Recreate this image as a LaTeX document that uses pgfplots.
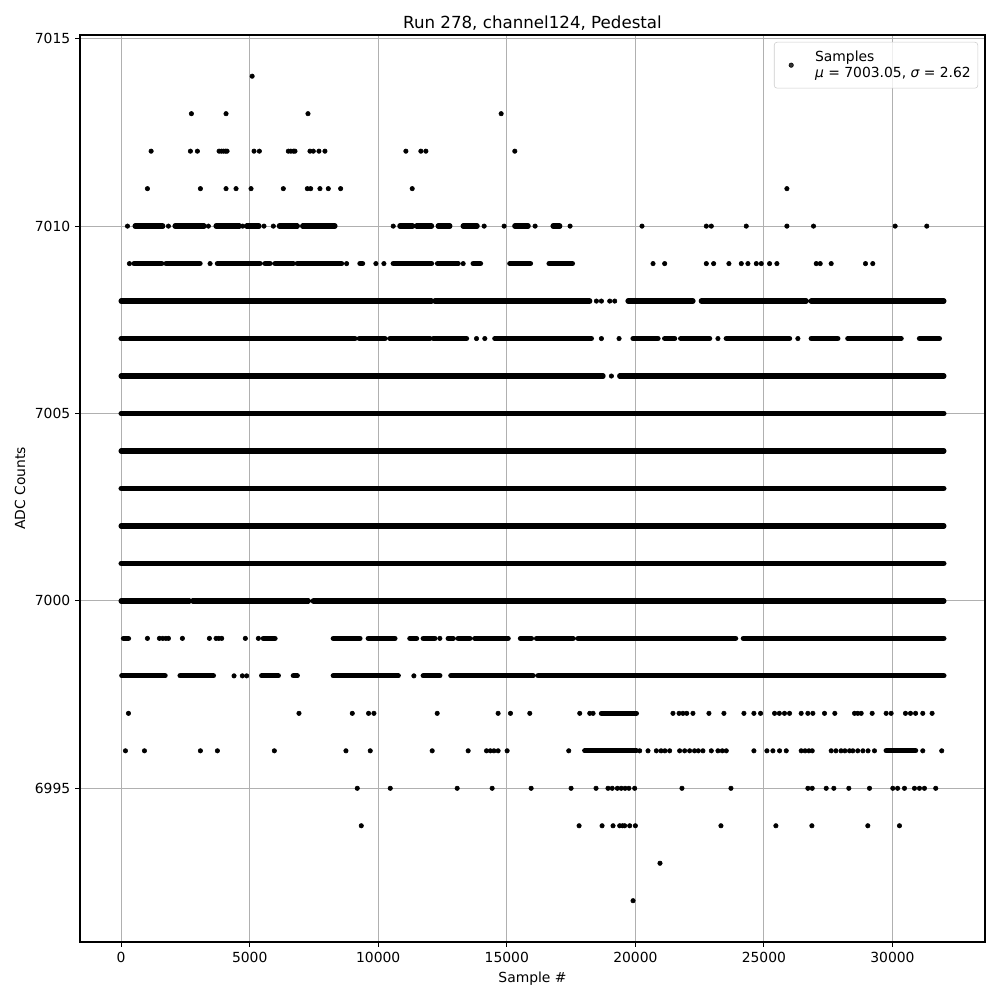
\documentclass[border=0pt]{standalone}
\usepackage{pgfplots}
\pgfplotsset{compat=1.18}
\usepackage{fontspec}
\setmainfont{DejaVu Sans}
\pgfplotsset{
  /pgf/number format/1000 sep={},
  /pgf/number format/assume math mode=true,
  seg/.style={black, line width=3.8bp, line cap=round, no marks, unbounded coords=jump, forget plot},
}
\begin{document}
\begin{tikzpicture}
\begin{axis}[
  scale only axis, width=651.6bp, height=653bp,
  xmin=-1600, xmax=33599, ymin=6990.9, ymax=7015.1,
  xtick={0,5000,10000,15000,20000,25000,30000},
  ytick={6995,7000,7005,7010,7015},
  scaled ticks=false,
  font=\fontsize{10bp}{12bp}\selectfont,
  tick label style={font=\fontsize{10bp}{12bp}\selectfont},
  tick align=outside, major tick length=3.5bp,
  xtick pos=left, ytick pos=left,
  major tick style={line width=0.8bp, black},
  axis line style={line width=0.8bp},
  grid=major, grid style={color=black!31, line width=0.8bp},
  title={Run 278, channel124, Pedestal},
  title style={font=\fontsize{12bp}{14bp}\selectfont, inner sep=0pt, yshift=-2.6bp},
  xlabel={Sample \#}, ylabel={ADC Counts},
  legend cell align=left,
  legend image code/.code={\path (0,0) (24bp,0);
    \draw[#1] plot coordinates {(9bp,0bp)};},
  legend style={at={(1,1)}, xshift=-5bp, yshift=-5bp, anchor=north east,
    draw=black!20, rounded corners=2bp, fill=white, fill opacity=0.8, text opacity=1,
    inner xsep=3bp, inner ysep=4bp,
    font=\fontsize{10bp}{12bp}\selectfont, cells={align=left}},
]
% isolated samples
\addplot[only marks, mark=*, mark size=1.6bp, black] coordinates {
(5095,7014)
(2733,7013) (4080,7013) (7267,7013) (14780,7013)
(1166,7012) (2694,7012) (2966,7012) (3810,7012) (3900,7012) (3980,7012) (4060,7012) (4120,7012)
(5169,7012) (5376,7012) (6502,7012) (6600,7012) (6700,7012) (6762,7012) (7345,7012) (7474,7012)
(7694,7012) (7927,7012) (11075,7012) (11658,7012) (11852,7012) (15311,7012)
(1023,7011) (3083,7011) (4080,7011) (4469,7011) (5052,7011) (6308,7011) (7241,7011) (7371,7011)
(7733,7011) (8057,7011) (8537,7011) (11321,7011) (25894,7011)
(246,7010) (1839,7010) (3394,7010) (4728,7010) (5557,7010) (5920,7010) (10583,7010) (14119,7010)
(14896,7010) (16101,7010) (17461,7010) (20258,7010) (22760,7010) (22954,7010) (24314,7010)
(25894,7010) (26930,7010) (30104,7010) (31334,7010)
(323,7009) (3459,7009) (8770,7009) (9909,7009) (10220,7009) (13303,7009) (20687,7009) (21140,7009)
(22760,7009) (23044,7009) (23639,7009) (24120,7009) (24378,7009) (24703,7009) (24897,7009)
(25220,7009) (25505,7009) (27035,7009) (27190,7009) (27617,7009) (28951,7009) (29234,7009)
(18485,7008) (18680,7008) (19003,7008) (19197,7008)
(13822,7007) (14145,7007) (18680,7007) (19366,7007) (23212,7007) (26321,7007)
(19068,7006)
(1023,6999) (1490,6999) (1620,6999) (1740,6999) (1840,6999) (2383,6999) (3433,6999) (3692,6999)
(3800,6999) (3912,6999) (4831,6999) (5337,6999) (12396,6999)
(4391,6998) (4715,6998) (4883,6998) (11386,6998)
(285,6997) (6917,6997) (8990,6997) (9624,6997) (9832,6997) (12293,6997) (14662,6997) (15143,6997)
(15894,6997) (17837,6997) (18226,6997) (18355,6997) (21463,6997) (21700,6997) (21850,6997)
(22000,6997) (22240,6997) (22862,6997) (23445,6997) (24223,6997) (24611,6997) (24870,6997)
(25414,6997) (25600,6997) (25800,6997) (25997,6997) (26450,6997) (26710,6997) (26904,6997)
(27357,6997) (27758,6997) (28523,6997) (28650,6997) (28783,6997) (29210,6997) (29754,6997)
(29948,6997) (30505,6997) (30700,6997) (30900,6997) (31179,6997) (31541,6997)
(168,6996) (907,6996) (3083,6996) (3744,6996) (5959,6996) (8744,6996) (9689,6996) (12098,6996)
(13497,6996) (14210,6996) (14360,6996) (14500,6996) (14662,6996) (15013,6996) (17409,6996)
(20168,6996) (20492,6996) (20816,6996) (21000,6996) (21150,6996) (21334,6996) (21723,6996)
(21917,6996) (22111,6996) (22300,6996) (22450,6996) (22629,6996) (22954,6996) (23212,6996)
(23380,6996) (23536,6996) (24611,6996) (25117,6996) (25350,6996) (25609,6996) (25869,6996)
(26450,6996) (26600,6996) (26750,6996) (26879,6996) (27617,6996) (27800,6996) (28000,6996)
(28150,6996) (28329,6996) (28458,6996) (28650,6996) (28850,6996) (29050,6996) (29300,6996)
(31179,6996) (31916,6996)
(9184,6995) (10467,6995) (13070,6995) (14430,6995) (15946,6995) (17500,6995) (18471,6995)
(18936,6995) (19100,6995) (19300,6995) (19450,6995) (19600,6995) (19750,6995) (19974,6995)
(21813,6995) (23718,6995) (26710,6995) (26879,6995) (27423,6995) (27720,6995) (28303,6995)
(29107,6995) (30013,6995) (30200,6995) (30467,6995) (30855,6995) (31050,6995) (31244,6995)
(31683,6995)
(9340,6994) (17811,6994) (18705,6994) (19132,6994) (19391,6994) (19500,6994) (19585,6994)
(19780,6994) (20000,6994) (23329,6994) (25466,6994) (26866,6994) (29041,6994) (30272,6994)
(20958,6993)
(19910,6992)
};
\addlegendentry{Samples\\{\itshape μ} = 7003.05, {\itshape σ} = 2.62}
% runs of consecutive samples at one value
\addplot[seg] coordinates {
(544,7010) (1619,7010) (1700,nan) (2098,7010) (3225,7010) (3300,nan) (3692,7010) (4598,7010) (4700,nan)
(4883,7010) (5363,7010) (5400,nan) (6153,7010) (6852,7010) (6900,nan) (7060,7010) (8316,7010) (8400,nan)
(10842,7010) (11335,7010) (11400,nan) (11490,7010) (12073,7010) (12100,nan) (12331,7010) (12785,7010) (12800,nan)
(13303,7010) (13846,7010) (13900,nan) (15311,7010) (15829,7010) (15900,nan) (16800,7010) (17060,7010)
};
\addplot[seg] coordinates {
(505,7009) (1580,7009) (1600,nan) (1749,7009) (3070,7009) (3100,nan) (3744,7009) (5402,7009) (5500,nan)
(5596,7009) (5790,7009) (5800,nan) (5985,7009) (6697,7009) (6750,nan) (6852,7009) (8575,7009) (8600,nan)
(9288,7009) (9391,7009) (9400,nan) (10583,7009) (12073,7009) (12100,nan) (12305,7009) (13108,7009) (13200,nan)
(13691,7009) (13977,7009) (14000,nan) (15117,7009) (15920,7009) (16000,nan) (16645,7009) (17552,7009)
};
\addplot[seg] coordinates {
(0,7008) (12073,7008) (12100,nan) (12202,7008) (18226,7008) (18300,nan) (19715,7008) (22241,7008) (22300,nan)
(22565,7008) (26646,7008) (26700,nan) (26840,7008) (31999,7008)
};
\addplot[seg] coordinates {
(0,7007) (9093,7007) (9100,nan) (9262,7007) (10259,7007) (10300,nan) (10453,7007) (12008,7007) (12050,nan)
(12137,7007) (13433,7007) (13500,nan) (14534,7007) (18290,7007) (18300,nan) (19910,7007) (20880,7007) (20900,nan)
(21140,7007) (21528,7007) (21600,nan) (21762,7007) (22889,7007) (22900,nan) (23536,7007) (25997,7007) (26000,nan)
(26840,7007) (27875,7007) (27900,nan) (28264,7007) (30337,7007) (30400,nan) (31050,7007) (31826,7007)
};
\addplot[seg] coordinates {(0,7006) (18743,7006) (18800,nan) (19391,7006) (31999,7006)};
\addplot[seg] coordinates {(0,7005) (31999,7005)};
\addplot[seg] coordinates {(0,7004) (31999,7004)};
\addplot[seg] coordinates {(0,7003) (31999,7003)};
\addplot[seg] coordinates {(0,7002) (31999,7002)};
\addplot[seg] coordinates {(0,7001) (31999,7001)};
\addplot[seg] coordinates {(0,7000) (2655,7000) (2700,nan) (2785,7000) (7280,7000) (7300,nan) (7474,7000) (31999,7000)};
\addplot[seg] coordinates {
(90,6999) (285,6999) (300,nan) (5531,6999) (5985,6999) (6000,nan) (8251,6999) (9288,6999) (9300,nan)
(9611,6999) (10648,6999) (10700,nan) (11230,6999) (11490,6999) (11500,nan) (11749,6999) (12202,6999) (12250,nan)
(12720,6999) (12914,6999) (12950,nan) (13108,6999) (13562,6999) (13600,nan) (13756,6999) (15052,6999) (15100,nan)
(15531,6999) (15960,6999) (16000,nan) (16154,6999) (17577,6999) (17600,nan) (17771,6999) (23900,6999) (24000,nan)
(24200,6999) (31999,6999)
};
\addplot[seg] coordinates {
(26,6998) (1710,6998) (1800,nan) (2293,6998) (3588,6998) (3600,nan) (5466,6998) (6114,6998) (6200,nan)
(6697,6998) (6852,6998) (6900,nan) (8251,6998) (10777,6998) (10800,nan) (11749,6998) (12396,6998) (12400,nan)
(12824,6998) (16023,6998) (16100,nan) (16217,6998) (31999,6998)
};
\addplot[seg] coordinates {(18680,6997) (20040,6997)};
\addplot[seg] coordinates {(18031,6996) (20040,6996) (20100,nan) (29754,6996) (30900,6996)};
\end{axis}
\pgfresetboundingbox
\path[use as bounding box] ([shift={(-57.6bp,-41.76bp)}]current axis.south west) rectangle ([shift={(10.8bp,25.2bp)}]current axis.north east);
\end{tikzpicture}
\end{document}
